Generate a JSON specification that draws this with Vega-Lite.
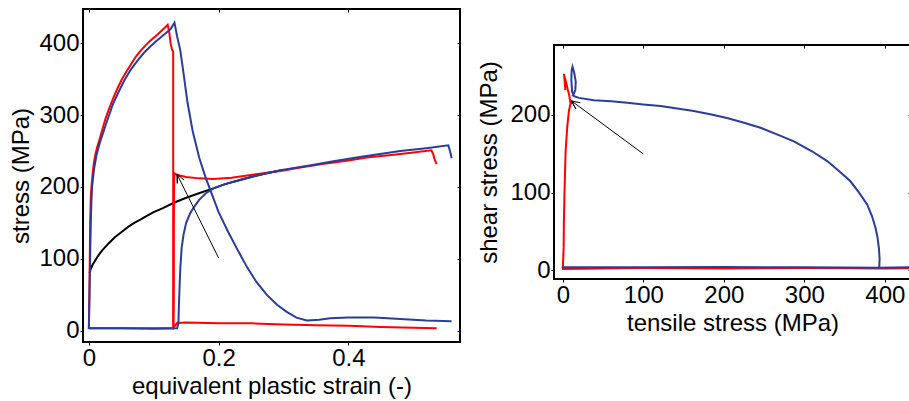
{
  "$schema": "https://vega.github.io/schema/vega-lite/v6.json",
  "padding": {"left": 8, "top": 7, "right": 0, "bottom": 0},
  "spacing": 14,
  "config": {
    "view": {"stroke": "#000", "strokeWidth": 2},
    "font": "Liberation Sans",
    "axis": {"grid": false, "domain": false, "tickColor": "#000", "tickSize": 3, "tickWidth": 1, "labelFont": "Liberation Sans", "labelFontSize": 24, "labelColor": "#000", "labelPadding": 1, "labelFlush": false, "titleFont": "Liberation Sans", "titleFontSize": 24, "titleFontWeight": "normal", "titleColor": "#000"}
  },
  "datasets": {
    "L": [
      {"test":"A","path":"A1","i":0,"strain":0,"stress":2},
      {"test":"A","path":"A1","i":1,"strain":0.001,"stress":60},
      {"test":"A","path":"A1","i":2,"strain":0.002,"stress":150},
      {"test":"A","path":"A1","i":3,"strain":0.003,"stress":185},
      {"test":"A","path":"A1","i":4,"strain":0.004,"stress":200},
      {"test":"A","path":"A1","i":5,"strain":0.006,"stress":220},
      {"test":"A","path":"A1","i":6,"strain":0.008,"stress":235},
      {"test":"A","path":"A1","i":7,"strain":0.01,"stress":245},
      {"test":"A","path":"A1","i":8,"strain":0.013,"stress":256},
      {"test":"A","path":"A1","i":9,"strain":0.017,"stress":268},
      {"test":"A","path":"A1","i":10,"strain":0.022,"stress":284},
      {"test":"A","path":"A1","i":11,"strain":0.026,"stress":296},
      {"test":"A","path":"A1","i":12,"strain":0.03,"stress":306},
      {"test":"A","path":"A1","i":13,"strain":0.035,"stress":318},
      {"test":"A","path":"A1","i":14,"strain":0.04,"stress":329},
      {"test":"A","path":"A1","i":15,"strain":0.045,"stress":339},
      {"test":"A","path":"A1","i":16,"strain":0.051,"stress":350},
      {"test":"A","path":"A1","i":17,"strain":0.058,"stress":361},
      {"test":"A","path":"A1","i":18,"strain":0.065,"stress":371},
      {"test":"A","path":"A1","i":19,"strain":0.072,"stress":381},
      {"test":"A","path":"A1","i":20,"strain":0.08,"stress":390},
      {"test":"A","path":"A1","i":21,"strain":0.087,"stress":397},
      {"test":"A","path":"A1","i":22,"strain":0.095,"stress":404},
      {"test":"A","path":"A1","i":23,"strain":0.103,"stress":410},
      {"test":"A","path":"A1","i":24,"strain":0.11,"stress":416},
      {"test":"A","path":"A1","i":25,"strain":0.117,"stress":422},
      {"test":"A","path":"A1","i":26,"strain":0.1215,"stress":426},
      {"test":"A","path":"A1","i":27,"strain":0.124,"stress":415},
      {"test":"A","path":"A1","i":28,"strain":0.126,"stress":400},
      {"test":"A","path":"A1","i":29,"strain":0.128,"stress":392},
      {"test":"A","path":"A1","i":30,"strain":0.13,"stress":388},
      {"test":"A","path":"A1","i":31,"strain":0.13,"stress":150},
      {"test":"A","path":"A1","i":32,"strain":0.13,"stress":8},
      {"test":"A","path":"A1","i":33,"strain":0.131,"stress":4},
      {"test":"A","path":"A1","i":34,"strain":0.133,"stress":7},
      {"test":"A","path":"A1","i":35,"strain":0.136,"stress":10.6},
      {"test":"A","path":"A1","i":36,"strain":0.15,"stress":11},
      {"test":"A","path":"A1","i":37,"strain":0.2,"stress":10},
      {"test":"A","path":"A1","i":38,"strain":0.25,"stress":10},
      {"test":"A","path":"A1","i":39,"strain":0.3,"stress":8.5},
      {"test":"A","path":"A1","i":40,"strain":0.35,"stress":7.5},
      {"test":"A","path":"A1","i":41,"strain":0.4,"stress":6.5},
      {"test":"A","path":"A1","i":42,"strain":0.45,"stress":5},
      {"test":"A","path":"A1","i":43,"strain":0.5,"stress":4},
      {"test":"A","path":"A1","i":44,"strain":0.536,"stress":3},
      {"test":"A","path":"A2","i":0,"strain":0,"stress":3},
      {"test":"A","path":"A2","i":1,"strain":0.06,"stress":3},
      {"test":"A","path":"A2","i":2,"strain":0.12,"stress":3},
      {"test":"A","path":"A2","i":3,"strain":0.129,"stress":3},
      {"test":"A","path":"A2","i":4,"strain":0.1305,"stress":5},
      {"test":"A","path":"A2","i":5,"strain":0.131,"stress":60},
      {"test":"A","path":"A2","i":6,"strain":0.131,"stress":150},
      {"test":"A","path":"A2","i":7,"strain":0.1315,"stress":210},
      {"test":"A","path":"A2","i":8,"strain":0.132,"stress":219},
      {"test":"A","path":"A2","i":9,"strain":0.134,"stress":218},
      {"test":"A","path":"A2","i":10,"strain":0.14,"stress":216},
      {"test":"A","path":"A2","i":11,"strain":0.15,"stress":214},
      {"test":"A","path":"A2","i":12,"strain":0.17,"stress":212},
      {"test":"A","path":"A2","i":13,"strain":0.192,"stress":211},
      {"test":"A","path":"A2","i":14,"strain":0.22,"stress":213},
      {"test":"A","path":"A2","i":15,"strain":0.26,"stress":218},
      {"test":"A","path":"A2","i":16,"strain":0.3,"stress":223},
      {"test":"A","path":"A2","i":17,"strain":0.326,"stress":227},
      {"test":"A","path":"A2","i":18,"strain":0.36,"stress":232},
      {"test":"A","path":"A2","i":19,"strain":0.4,"stress":237},
      {"test":"A","path":"A2","i":20,"strain":0.428,"stress":241},
      {"test":"A","path":"A2","i":21,"strain":0.47,"stress":245},
      {"test":"A","path":"A2","i":22,"strain":0.5,"stress":248},
      {"test":"A","path":"A2","i":23,"strain":0.528,"stress":251},
      {"test":"A","path":"A2","i":24,"strain":0.531,"stress":245},
      {"test":"A","path":"A2","i":25,"strain":0.533,"stress":238},
      {"test":"A","path":"A2","i":26,"strain":0.536,"stress":232},
      {"test":"B","path":"B1","i":0,"strain":0,"stress":2},
      {"test":"B","path":"B1","i":1,"strain":0.002,"stress":100},
      {"test":"B","path":"B1","i":2,"strain":0.003,"stress":150},
      {"test":"B","path":"B1","i":3,"strain":0.004,"stress":180},
      {"test":"B","path":"B1","i":4,"strain":0.005,"stress":200},
      {"test":"B","path":"B1","i":5,"strain":0.008,"stress":225},
      {"test":"B","path":"B1","i":6,"strain":0.012,"stress":245},
      {"test":"B","path":"B1","i":7,"strain":0.016,"stress":259},
      {"test":"B","path":"B1","i":8,"strain":0.02,"stress":270},
      {"test":"B","path":"B1","i":9,"strain":0.028,"stress":292},
      {"test":"B","path":"B1","i":10,"strain":0.037,"stress":315},
      {"test":"B","path":"B1","i":11,"strain":0.045,"stress":331},
      {"test":"B","path":"B1","i":12,"strain":0.055,"stress":349},
      {"test":"B","path":"B1","i":13,"strain":0.065,"stress":364},
      {"test":"B","path":"B1","i":14,"strain":0.075,"stress":376},
      {"test":"B","path":"B1","i":15,"strain":0.085,"stress":387},
      {"test":"B","path":"B1","i":16,"strain":0.095,"stress":396},
      {"test":"B","path":"B1","i":17,"strain":0.105,"stress":404},
      {"test":"B","path":"B1","i":18,"strain":0.118,"stress":414},
      {"test":"B","path":"B1","i":19,"strain":0.126,"stress":420},
      {"test":"B","path":"B1","i":20,"strain":0.132,"stress":429},
      {"test":"B","path":"B1","i":21,"strain":0.136,"stress":410},
      {"test":"B","path":"B1","i":22,"strain":0.141,"stress":390},
      {"test":"B","path":"B1","i":23,"strain":0.146,"stress":358},
      {"test":"B","path":"B1","i":24,"strain":0.152,"stress":318},
      {"test":"B","path":"B1","i":25,"strain":0.16,"stress":278},
      {"test":"B","path":"B1","i":26,"strain":0.17,"stress":241},
      {"test":"B","path":"B1","i":27,"strain":0.18,"stress":213},
      {"test":"B","path":"B1","i":28,"strain":0.19,"stress":189},
      {"test":"B","path":"B1","i":29,"strain":0.2,"stress":165},
      {"test":"B","path":"B1","i":30,"strain":0.215,"stress":137},
      {"test":"B","path":"B1","i":31,"strain":0.23,"stress":111},
      {"test":"B","path":"B1","i":32,"strain":0.244,"stress":88},
      {"test":"B","path":"B1","i":33,"strain":0.258,"stress":68},
      {"test":"B","path":"B1","i":34,"strain":0.274,"stress":50},
      {"test":"B","path":"B1","i":35,"strain":0.29,"stress":36},
      {"test":"B","path":"B1","i":36,"strain":0.305,"stress":26},
      {"test":"B","path":"B1","i":37,"strain":0.32,"stress":18},
      {"test":"B","path":"B1","i":38,"strain":0.336,"stress":14},
      {"test":"B","path":"B1","i":39,"strain":0.355,"stress":15},
      {"test":"B","path":"B1","i":40,"strain":0.372,"stress":17},
      {"test":"B","path":"B1","i":41,"strain":0.4,"stress":18},
      {"test":"B","path":"B1","i":42,"strain":0.44,"stress":18},
      {"test":"B","path":"B1","i":43,"strain":0.48,"stress":16},
      {"test":"B","path":"B1","i":44,"strain":0.52,"stress":14},
      {"test":"B","path":"B1","i":45,"strain":0.559,"stress":13},
      {"test":"B","path":"B2","i":0,"strain":0,"stress":3},
      {"test":"B","path":"B2","i":1,"strain":0.05,"stress":3},
      {"test":"B","path":"B2","i":2,"strain":0.1,"stress":2.5},
      {"test":"B","path":"B2","i":3,"strain":0.136,"stress":3},
      {"test":"B","path":"B2","i":4,"strain":0.138,"stress":10},
      {"test":"B","path":"B2","i":5,"strain":0.139,"stress":40},
      {"test":"B","path":"B2","i":6,"strain":0.14,"stress":65},
      {"test":"B","path":"B2","i":7,"strain":0.141,"stress":87},
      {"test":"B","path":"B2","i":8,"strain":0.143,"stress":115},
      {"test":"B","path":"B2","i":9,"strain":0.146,"stress":134},
      {"test":"B","path":"B2","i":10,"strain":0.15,"stress":150},
      {"test":"B","path":"B2","i":11,"strain":0.156,"stress":163},
      {"test":"B","path":"B2","i":12,"strain":0.162,"stress":172},
      {"test":"B","path":"B2","i":13,"strain":0.17,"stress":182},
      {"test":"B","path":"B2","i":14,"strain":0.18,"stress":191},
      {"test":"B","path":"B2","i":15,"strain":0.192,"stress":198},
      {"test":"B","path":"B2","i":16,"strain":0.21,"stress":204},
      {"test":"B","path":"B2","i":17,"strain":0.23,"stress":209},
      {"test":"B","path":"B2","i":18,"strain":0.25,"stress":214},
      {"test":"B","path":"B2","i":19,"strain":0.274,"stress":219},
      {"test":"B","path":"B2","i":20,"strain":0.3,"stress":224},
      {"test":"B","path":"B2","i":21,"strain":0.34,"stress":230},
      {"test":"B","path":"B2","i":22,"strain":0.377,"stress":236},
      {"test":"B","path":"B2","i":23,"strain":0.42,"stress":242},
      {"test":"B","path":"B2","i":24,"strain":0.48,"stress":250},
      {"test":"B","path":"B2","i":25,"strain":0.52,"stress":254},
      {"test":"B","path":"B2","i":26,"strain":0.554,"stress":258},
      {"test":"B","path":"B2","i":27,"strain":0.556,"stress":252},
      {"test":"B","path":"B2","i":28,"strain":0.558,"stress":245},
      {"test":"B","path":"B2","i":29,"strain":0.559,"stress":240},
      {"test":"C","path":"C","i":0,"strain":0.001,"stress":80},
      {"test":"C","path":"C","i":1,"strain":0.003,"stress":86},
      {"test":"C","path":"C","i":2,"strain":0.006,"stress":92},
      {"test":"C","path":"C","i":3,"strain":0.01,"stress":98},
      {"test":"C","path":"C","i":4,"strain":0.015,"stress":105},
      {"test":"C","path":"C","i":5,"strain":0.02,"stress":111},
      {"test":"C","path":"C","i":6,"strain":0.03,"stress":121},
      {"test":"C","path":"C","i":7,"strain":0.04,"stress":130},
      {"test":"C","path":"C","i":8,"strain":0.05,"stress":137},
      {"test":"C","path":"C","i":9,"strain":0.06,"stress":144},
      {"test":"C","path":"C","i":10,"strain":0.07,"stress":150},
      {"test":"C","path":"C","i":11,"strain":0.08,"stress":155},
      {"test":"C","path":"C","i":12,"strain":0.09,"stress":160},
      {"test":"C","path":"C","i":13,"strain":0.1,"stress":165},
      {"test":"C","path":"C","i":14,"strain":0.115,"stress":171},
      {"test":"C","path":"C","i":15,"strain":0.131,"stress":178},
      {"test":"C","path":"C","i":16,"strain":0.15,"stress":185},
      {"test":"C","path":"C","i":17,"strain":0.172,"stress":192},
      {"test":"C","path":"C","i":18,"strain":0.192,"stress":198},
      {"test":"C","path":"C","i":19,"strain":0.21,"stress":204},
      {"test":"C","path":"C","i":20,"strain":0.23,"stress":209},
      {"test":"C","path":"C","i":21,"strain":0.25,"stress":214},
      {"test":"C","path":"C","i":22,"strain":0.274,"stress":219},
      {"test":"C","path":"C","i":23,"strain":0.3,"stress":224}
    ],
    "LA": [
      {"i":0,"strain":0.2,"stress":101},
      {"i":1,"strain":0.136,"stress":217.6},
      {"i":2,"strain":0.1363,"stress":205},
      {"i":3,"strain":0.136,"stress":217.6},
      {"i":4,"strain":0.1468,"stress":209.8}
    ],
    "R": [
      {"test":"A","path":"A1","i":0,"tensile":-1,"shear":2},
      {"test":"A","path":"A1","i":1,"tensile":100,"shear":3},
      {"test":"A","path":"A1","i":2,"tensile":200,"shear":2.5},
      {"test":"A","path":"A1","i":3,"tensile":300,"shear":3},
      {"test":"A","path":"A1","i":4,"tensile":400,"shear":2.5},
      {"test":"A","path":"A1","i":5,"tensile":432,"shear":3},
      {"test":"A","path":"A2","i":0,"tensile":0,"shear":3},
      {"test":"A","path":"A2","i":1,"tensile":1,"shear":30},
      {"test":"A","path":"A2","i":2,"tensile":1.3,"shear":63},
      {"test":"A","path":"A2","i":3,"tensile":2,"shear":98},
      {"test":"A","path":"A2","i":4,"tensile":3.4,"shear":153},
      {"test":"A","path":"A2","i":5,"tensile":5.5,"shear":185},
      {"test":"A","path":"A2","i":6,"tensile":7.5,"shear":205},
      {"test":"A","path":"A2","i":7,"tensile":9.6,"shear":215},
      {"test":"A","path":"A2","i":8,"tensile":11,"shear":219},
      {"test":"A","path":"A2","i":9,"tensile":10,"shear":214},
      {"test":"A","path":"A2","i":10,"tensile":9,"shear":218},
      {"test":"A","path":"A2","i":11,"tensile":8,"shear":225},
      {"test":"A","path":"A2","i":12,"tensile":6,"shear":233},
      {"test":"A","path":"A2","i":13,"tensile":4.5,"shear":240},
      {"test":"A","path":"A2","i":14,"tensile":3,"shear":246},
      {"test":"A","path":"A2","i":15,"tensile":1.5,"shear":251},
      {"test":"A","path":"A2","i":16,"tensile":1.3,"shear":253},
      {"test":"A","path":"A2","i":17,"tensile":2,"shear":246},
      {"test":"A","path":"A2","i":18,"tensile":2.5,"shear":240},
      {"test":"A","path":"A2","i":19,"tensile":3,"shear":232},
      {"test":"B","path":"B1","i":0,"tensile":-1,"shear":3},
      {"test":"B","path":"B1","i":1,"tensile":0,"shear":4},
      {"test":"B","path":"B1","i":2,"tensile":100,"shear":4},
      {"test":"B","path":"B1","i":3,"tensile":200,"shear":4.5},
      {"test":"B","path":"B1","i":4,"tensile":300,"shear":4},
      {"test":"B","path":"B1","i":5,"tensile":393,"shear":3.5},
      {"test":"B","path":"B1","i":6,"tensile":432,"shear":4},
      {"test":"B","path":"B2","i":0,"tensile":393,"shear":3},
      {"test":"B","path":"B2","i":1,"tensile":393.5,"shear":15},
      {"test":"B","path":"B2","i":2,"tensile":392.6,"shear":29},
      {"test":"B","path":"B2","i":3,"tensile":391,"shear":42},
      {"test":"B","path":"B2","i":4,"tensile":388.4,"shear":55},
      {"test":"B","path":"B2","i":5,"tensile":384,"shear":70},
      {"test":"B","path":"B2","i":6,"tensile":378,"shear":85},
      {"test":"B","path":"B2","i":7,"tensile":368,"shear":100},
      {"test":"B","path":"B2","i":8,"tensile":357,"shear":115},
      {"test":"B","path":"B2","i":9,"tensile":343,"shear":128},
      {"test":"B","path":"B2","i":10,"tensile":328.4,"shear":140.7},
      {"test":"B","path":"B2","i":11,"tensile":310,"shear":153},
      {"test":"B","path":"B2","i":12,"tensile":287,"shear":166},
      {"test":"B","path":"B2","i":13,"tensile":266,"shear":175},
      {"test":"B","path":"B2","i":14,"tensile":245.6,"shear":183.5},
      {"test":"B","path":"B2","i":15,"tensile":225,"shear":190},
      {"test":"B","path":"B2","i":16,"tensile":204,"shear":196},
      {"test":"B","path":"B2","i":17,"tensile":183,"shear":201},
      {"test":"B","path":"B2","i":18,"tensile":162.7,"shear":205},
      {"test":"B","path":"B2","i":19,"tensile":140,"shear":208.5},
      {"test":"B","path":"B2","i":20,"tensile":121.4,"shear":211.4},
      {"test":"B","path":"B2","i":21,"tensile":100,"shear":213.5},
      {"test":"B","path":"B2","i":22,"tensile":80,"shear":215.7},
      {"test":"B","path":"B2","i":23,"tensile":60,"shear":217.5},
      {"test":"B","path":"B2","i":24,"tensile":38.5,"shear":219},
      {"test":"B","path":"B2","i":25,"tensile":20,"shear":222},
      {"test":"B","path":"B2","i":26,"tensile":14,"shear":224},
      {"test":"B","path":"B2","i":27,"tensile":11.5,"shear":230},
      {"test":"B","path":"B2","i":28,"tensile":10.5,"shear":245},
      {"test":"B","path":"B2","i":29,"tensile":11,"shear":258},
      {"test":"B","path":"B2","i":30,"tensile":12,"shear":262},
      {"test":"B","path":"B2","i":31,"tensile":14,"shear":255},
      {"test":"B","path":"B2","i":32,"tensile":16,"shear":243},
      {"test":"B","path":"B2","i":33,"tensile":15.5,"shear":232},
      {"test":"B","path":"B2","i":34,"tensile":13,"shear":226},
      {"test":"B","path":"B2","i":35,"tensile":11.7,"shear":224}
    ],
    "RA": [
      {"i":0,"tensile":99.8,"shear":150},
      {"i":1,"tensile":10.8,"shear":218},
      {"i":2,"tensile":16.1,"shear":207.8},
      {"i":3,"tensile":10.8,"shear":218},
      {"i":4,"tensile":21.7,"shear":215.7}
    ],
    "S": [{"t": ""}]
  },
  "hconcat": [
    {
      "width": 377,
      "height": 333,
      "layer": [
        {
          "data": {"name": "L"},
          "transform": [{"filter": "datum.test === 'C'"}],
          "mark": {"type": "line", "color": "#000000", "strokeWidth": 2, "clip": true},
          "encoding": {
            "x": {"field": "strain", "type": "quantitative", "scale": {"domain": [-0.009, 0.572], "nice": false, "zero": false}, "axis": {"values": [0, 0.2, 0.4], "format": "~g", "title": "equivalent plastic strain (-)"}},
            "y": {"field": "stress", "type": "quantitative", "scale": {"domain": [-16, 448], "nice": false, "zero": false}, "axis": {"values": [0, 100, 200, 300, 400], "title": "stress (MPa)", "titlePadding": 5}},
            "detail": {"field": "path"},
            "order": {"field": "i", "type": "quantitative"}
          }
        },
        {
          "data": {"name": "L"},
          "transform": [{"filter": "datum.test === 'A'"}],
          "mark": {"type": "line", "color": "#ff0000", "strokeWidth": 2, "clip": true},
          "encoding": {
            "x": {"field": "strain", "type": "quantitative", "axis": null},
            "y": {"field": "stress", "type": "quantitative", "axis": null},
            "detail": {"field": "path"},
            "order": {"field": "i", "type": "quantitative"}
          }
        },
        {
          "data": {"name": "L"},
          "transform": [{"filter": "datum.test === 'B'"}],
          "mark": {"type": "line", "color": "#2b3d9b", "strokeWidth": 2, "clip": true},
          "encoding": {
            "x": {"field": "strain", "type": "quantitative", "axis": null},
            "y": {"field": "stress", "type": "quantitative", "axis": null},
            "detail": {"field": "path"},
            "order": {"field": "i", "type": "quantitative"}
          }
        },
        {
          "data": {"name": "LA"},
          "mark": {"type": "line", "color": "#000000", "strokeWidth": 1, "clip": true},
          "encoding": {
            "x": {"field": "strain", "type": "quantitative", "axis": {"orient": "top", "values": [0, 0.2, 0.4], "labels": false, "title": null, "tickSize": -3}},
            "y": {"field": "stress", "type": "quantitative", "axis": {"orient": "right", "values": [0, 100, 200, 300, 400], "labels": false, "title": null, "tickSize": -3}},
            "order": {"field": "i", "type": "quantitative"}
          }
        }
      ],
      "resolve": {"axis": {"x": "independent", "y": "independent"}}
    },
    {
      "spacing": 0,
      "vconcat": [
        {
          "width": 357,
          "height": 34,
          "view": {"stroke": null, "fill": "transparent"},
          "data": {"name": "S"},
          "mark": {"type": "text"},
          "encoding": {"text": {"field": "t"}}
        },
        {
          "width": 357,
          "height": 234,
          "layer": [
            {
              "data": {"name": "R"},
              "transform": [{"filter": "datum.test === 'A'"}],
              "mark": {"type": "line", "color": "#ff0000", "strokeWidth": 2, "clip": true},
              "encoding": {
                "x": {"field": "tensile", "type": "quantitative", "scale": {"domain": [-11, 432.5], "nice": false, "zero": false}, "axis": {"values": [0, 100, 200, 300, 400], "title": "tensile stress (MPa)"}},
                "y": {"field": "shear", "type": "quantitative", "scale": {"domain": [-11, 290], "nice": false, "zero": false}, "axis": {"values": [0, 100, 200], "title": "shear stress (MPa)", "titlePadding": 8}},
                "detail": {"field": "path"},
                "order": {"field": "i", "type": "quantitative"}
              }
            },
            {
              "data": {"name": "R"},
              "transform": [{"filter": "datum.test === 'B'"}],
              "mark": {"type": "line", "color": "#2b3d9b", "strokeWidth": 2, "clip": true},
              "encoding": {
                "x": {"field": "tensile", "type": "quantitative", "axis": null},
                "y": {"field": "shear", "type": "quantitative", "axis": null},
                "detail": {"field": "path"},
                "order": {"field": "i", "type": "quantitative"}
              }
            },
            {
              "data": {"name": "RA"},
              "mark": {"type": "line", "color": "#000000", "strokeWidth": 1, "clip": true},
              "encoding": {
                "x": {"field": "tensile", "type": "quantitative", "axis": {"orient": "top", "values": [0, 100, 200, 300, 400], "labels": false, "title": null, "tickSize": -3}},
                "y": {"field": "shear", "type": "quantitative", "axis": {"orient": "right", "values": [0, 100, 200], "labels": false, "title": null, "tickSize": -3}},
                "order": {"field": "i", "type": "quantitative"}
              }
            }
          ],
          "resolve": {"axis": {"x": "independent", "y": "independent"}}
        }
      ]
    }
  ]
}
